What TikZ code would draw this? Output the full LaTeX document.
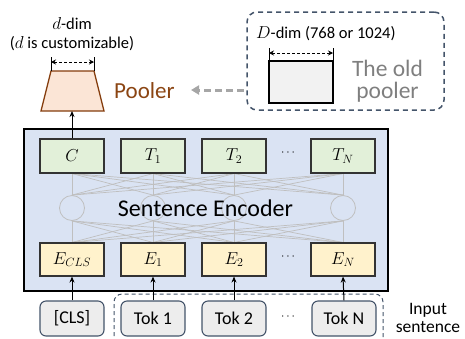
\documentclass[tikz,border=0pt]{standalone}
\usepackage{fontspec}
\setmainfont{Carlito}
\usetikzlibrary{arrows.meta}
\pgfdeclarelayer{bg}
\pgfdeclarelayer{netlayer}
\pgfsetlayers{bg,netlayer,main}
\definecolor{encfill}{HTML}{DAE3F3}
\definecolor{greenf}{HTML}{E2F0D9}
\definecolor{yellowf}{HTML}{FFF2CC}
\definecolor{peach}{HTML}{FBE5D6}
\definecolor{brownb}{HTML}{843C0C}
\definecolor{brownt}{HTML}{8B4513}
\definecolor{navy}{HTML}{44546A}
\definecolor{inputf}{HTML}{EDEDED}
\definecolor{grayarr}{HTML}{A6A6A6}
\definecolor{grayt}{HTML}{7F7F7F}
\definecolor{netc}{HTML}{BFBFBF}
\definecolor{oldf}{HTML}{F2F2F2}
\begin{document}
\begin{tikzpicture}[x=1pt,y=-1pt,
  encbox/.style={draw=black, line width=1.6pt, fill=encfill, minimum width=364pt, minimum height=162pt, inner sep=0pt},
  topbox/.style={draw=black!80, line width=1.1pt, fill=greenf, minimum width=64pt, minimum height=34pt, inner sep=0pt, font=\fontsize{17.5}{19}\selectfont},
  embbox/.style={draw=black!80, line width=1.1pt, fill=yellowf, minimum width=64pt, minimum height=33pt, inner sep=0pt, font=\fontsize{17.5}{19}\selectfont},
  inbox/.style={draw=navy, line width=1.1pt, fill=inputf, rounded corners=6pt, minimum width=64pt, minimum height=35pt, inner sep=0pt, font=\fontsize{18}{20}\selectfont},
  neuron/.style={circle, draw=netc, line width=0.8pt, minimum size=25pt, inner sep=0pt},
  net/.style={draw=netc, line width=0.7pt},
  uparrow/.style={draw=black, line width=1pt, -{Stealth[length=6pt,width=5pt]}},
  dimarr/.style={draw=black, line width=1pt, dash pattern=on 3pt off 2pt, {Stealth[length=5pt,width=5pt]}-{Stealth[length=5pt,width=5pt]}},
  tick/.style={draw=black, line width=1pt},
  dotsl/.style={font=\fontsize{12}{14}\selectfont},
  lbl/.style={inner sep=0pt, font=\fontsize{16.5}{18}\selectfont},
]
\useasboundingbox (0,0) rectangle (465,338);

% encoder
\begin{pgfonlayer}{bg}
\node[encbox] (enc) at (206,210) {};
\end{pgfonlayer}

% neurons
\foreach \i/\x in {1/72,2/153,3/234,4/343} {
  \node[neuron] (c\i) at (\x,208) {};
}
% boxes
\node[topbox] (t1) at (72,156) {$C$};
\node[topbox] (t2) at (153,156) {$T_1$};
\node[topbox] (t3) at (234,156) {$T_2$};
\node[topbox] (t4) at (343,156) {$T_N$};
\node[embbox] (e1) at (72,259.5) {$E_{CLS}$};
\node[embbox] (e2) at (153,259.5) {$E_1$};
\node[embbox] (e3) at (234,259.5) {$E_2$};
\node[embbox] (e4) at (343,259.5) {$E_N$};

% network lines
\begin{pgfonlayer}{netlayer}
\foreach \i in {1,2,3,4} {
  \foreach \j in {1,2,3,4} {
    \draw[net] (t\i.south) -- (c\j.north);
    \draw[net] (c\j.south) -- (e\i.north);
  }
}
\end{pgfonlayer}

\node[inner sep=0pt, anchor=base, font=\fontsize{24}{26}\selectfont] (senc) at (205.5,216) {Sentence Encoder};

\node[dotsl] (d1) at (288,153) {$\cdots$};
\node[dotsl] (d2) at (288,257) {$\cdots$};
\node[dotsl] (d3) at (288,317) {$\cdots$};

% input
\draw[navy, line width=1pt, dash pattern=on 4pt off 3pt, rounded corners=8pt] (114,350) -- (114,294) -- (383,294) -- (383,350);
\node[inbox] (i1) at (72,318.5) {[CLS]};
\node[inbox] (i2) at (153,318.5) {Tok 1};
\node[inbox] (i3) at (234,318.5) {Tok 2};
\node[inbox] (i4) at (344,318.5) {Tok N};
\foreach \i in {1,2,3,4} { \draw[uparrow] (i\i.north) -- (e\i.south); }
\node[inner sep=0pt, align=center, font=\fontsize{17.5}{17.5}\selectfont] (inp) at (428,318) {Input\\sentence};

% pooler
\draw[draw=brownb, line width=1.3pt, fill=peach, line join=miter] (41,111) -- (51,71) -- (94,71) -- (104,111) -- cycle;
\coordinate (pool) at (72,111);
\draw[uparrow] (t1.north) -- (pool);
\draw[tick] (51,57) -- (51,71);
\draw[tick] (94,57) -- (94,71);
\coordinate (pa) at (51,62);
\coordinate (pb) at (94,62);
\draw[dimarr] (pa) -- (pb);
\node[lbl, anchor=base] (ddim) at (72,29) {$d$-dim};
\node[lbl, anchor=base] (dcust) at (72,48) {($d$ is customizable)};
\node[inner sep=0pt, anchor=base west, text=brownt, font=\fontsize{23}{25}\selectfont] (ptext) at (114,98) {Pooler};

% old pooler
\node[draw=navy, line width=1.5pt, dash pattern=on 5pt off 4pt, rounded corners=10pt, minimum width=197pt, minimum height=98pt, inner sep=0pt] (old) at (345.5,61) {};
\node[draw=black, line width=1.2pt, fill=oldf, minimum width=64pt, minimum height=42pt, inner sep=0pt] (oldrect) at (301,82) {};
\draw[tick] (269,48) -- (269,61);
\draw[tick] (333,48) -- (333,61);
\coordinate (oa) at (269,53);
\coordinate (ob) at (333,53);
\draw[dimarr] (oa) -- (ob);
\node[lbl, anchor=base west, font=\fontsize{16.5}{18}\selectfont] (Ddim) at (256,38) {$D$-dim (768 or 1024)};
\node[inner sep=0pt, align=center, text=grayt, font=\fontsize{23.5}{22}\selectfont] (oldtxt) at (387.5,81.5) {The old\\pooler};

% gray arrow
\coordinate (ga) at (244,90);
\coordinate (gb) at (191,90);
\draw[draw=grayarr, line width=3pt, dash pattern=on 7pt off 4pt, -{Triangle[length=8pt,width=9pt]}] (ga) -- (gb);
\end{tikzpicture}
\end{document}
